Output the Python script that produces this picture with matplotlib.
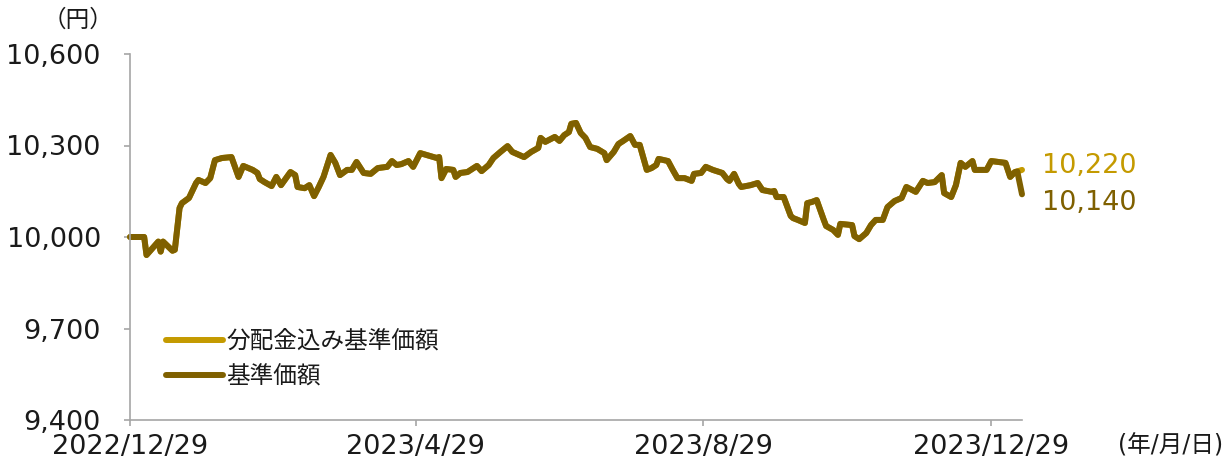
import matplotlib
matplotlib.use("Agg")
import matplotlib.pyplot as plt
import numpy as np

# digits in a wide face, Japanese falls back to Noto CJK
plt.rcParams['font.family'] = ['DejaVu Sans', 'Noto Sans CJK JP']

# 基準価額
dates = [
    "2022-12-29", "2023-01-04", "2023-01-05", "2023-01-10", "2023-01-11", "2023-01-12",
    "2023-01-16", "2023-01-17", "2023-01-19", "2023-01-20", "2023-01-23", "2023-01-26",
    "2023-01-27", "2023-01-30", "2023-02-01", "2023-02-03", "2023-02-06", "2023-02-10",
    "2023-02-13", "2023-02-15", "2023-02-19", "2023-02-21", "2023-02-22", "2023-02-24",
    "2023-02-27", "2023-03-01", "2023-03-03", "2023-03-07", "2023-03-09", "2023-03-10",
    "2023-03-13", "2023-03-15", "2023-03-17", "2023-03-19", "2023-03-21", "2023-03-24",
    "2023-03-26", "2023-03-28", "2023-03-31", "2023-04-02", "2023-04-04", "2023-04-07",
    "2023-04-10", "2023-04-13", "2023-04-17", "2023-04-19", "2023-04-21", "2023-04-23",
    "2023-04-26", "2023-04-28", "2023-05-01", "2023-05-08", "2023-05-09", "2023-05-10",
    "2023-05-12", "2023-05-15", "2023-05-16", "2023-05-18", "2023-05-21", "2023-05-25",
    "2023-05-27", "2023-05-30", "2023-06-01", "2023-06-04", "2023-06-07", "2023-06-09",
    "2023-06-12", "2023-06-14", "2023-06-17", "2023-06-20", "2023-06-21", "2023-06-23",
    "2023-06-27", "2023-06-29", "2023-07-01", "2023-07-03", "2023-07-04", "2023-07-06",
    "2023-07-08", "2023-07-10", "2023-07-12", "2023-07-15", "2023-07-18", "2023-07-19",
    "2023-07-22", "2023-07-24", "2023-07-26", "2023-07-29", "2023-07-31", "2023-08-02",
    "2023-08-05", "2023-08-07", "2023-08-09", "2023-08-10", "2023-08-14", "2023-08-16",
    "2023-08-18", "2023-08-21", "2023-08-24", "2023-08-25", "2023-08-28", "2023-08-30",
    "2023-09-02", "2023-09-06", "2023-09-08", "2023-09-09", "2023-09-11", "2023-09-13",
    "2023-09-14", "2023-09-18", "2023-09-21", "2023-09-23", "2023-09-27", "2023-09-28",
    "2023-09-29", "2023-10-02", "2023-10-05", "2023-10-06", "2023-10-08", "2023-10-11",
    "2023-10-12", "2023-10-14", "2023-10-16", "2023-10-19", "2023-10-20", "2023-10-23",
    "2023-10-25", "2023-10-26", "2023-10-31", "2023-11-01", "2023-11-03", "2023-11-06",
    "2023-11-08", "2023-11-10", "2023-11-13", "2023-11-15", "2023-11-18", "2023-11-21",
    "2023-11-23", "2023-11-27", "2023-11-30", "2023-12-02", "2023-12-05", "2023-12-08",
    "2023-12-09", "2023-12-12", "2023-12-14", "2023-12-16", "2023-12-18", "2023-12-21",
    "2023-12-22", "2023-12-27", "2023-12-29", "2024-01-04", "2024-01-06", "2024-01-08",
    "2024-01-09", "2024-01-11",
]
nav = [
    10000, 10000, 9941, 9985, 9952, 9985,
    9955, 9958, 10095, 10111, 10128, 10177,
    10187, 10177, 10193, 10252, 10259, 10262,
    10197, 10233, 10220, 10210, 10190, 10180,
    10167, 10197, 10170, 10213, 10203, 10164,
    10160, 10170, 10134, 10164, 10197, 10269,
    10243, 10203, 10220, 10220, 10246, 10210,
    10207, 10226, 10230, 10249, 10236, 10239,
    10249, 10230, 10275, 10259, 10262, 10193,
    10223, 10220, 10197, 10210, 10213, 10233,
    10216, 10236, 10259, 10279, 10298, 10279,
    10269, 10262, 10279, 10292, 10325, 10312,
    10328, 10315, 10334, 10344, 10371, 10374,
    10341, 10325, 10295, 10289, 10275, 10252,
    10279, 10305, 10315, 10331, 10302, 10302,
    10220, 10226, 10236, 10256, 10249, 10220,
    10193, 10193, 10184, 10207, 10210, 10230,
    10220, 10210, 10190, 10184, 10207, 10174,
    10164, 10170, 10177, 10154, 10148, 10151,
    10131, 10131, 10069, 10062, 10056, 10046,
    10111, 10115, 10121, 10056, 10036, 10023,
    10007, 10043, 10039, 10003, 9993, 10013,
    10039, 10056, 10056, 10098, 10118, 10128,
    10164, 10148, 10184, 10177, 10180, 10203,
    10144, 10131, 10170, 10243, 10230, 10249,
    10220, 10220, 10249, 10243, 10197, 10213,
    10215, 10140,
]
# 分配金込み基準価額: same path, last value differs
nav_with_div = nav[:-1] + [10220]

labels = ["分配金込み基準価額", "基準価額"]
tick_dates = ["2022-12-29", "2023-04-29", "2023-08-29", "2023-12-29"]
tick_labels = ["2022/12/29", "2023/4/29", "2023/8/29", "2023/12/29"]
y_ticks = [9400, 9700, 10000, 10300, 10600]

GOLD = "#C49A00"
DARK = "#7F6000"
GRAY = "#A6A6A6"
TXT = "#1a1a1a"

x = np.array(dates, dtype="datetime64[D]")

fig = plt.figure(figsize=(12.32, 4.59), dpi=100)
ax = fig.add_axes([130 / 1232, 1 - 420 / 459, 892 / 1232, 366 / 459])

ax.plot(x, nav_with_div, color=GOLD, lw=4.3, label=labels[0],
        solid_joinstyle="round", solid_capstyle="round", clip_on=False)
ax.plot(x, nav, color=DARK, lw=4.3, label=labels[1],
        solid_joinstyle="round", solid_capstyle="round", clip_on=False)

ax.set_xlim(np.datetime64("2022-12-29"), np.datetime64("2024-01-11"))
ax.set_ylim(9400, 10600)
ax.set_yticks(y_ticks)
ax.set_yticklabels([f"{v:,}" for v in y_ticks])
ax.set_xticks(np.array(tick_dates, dtype="datetime64[D]"))
ax.set_xticklabels(tick_labels)

for s in ["top", "right"]:
    ax.spines[s].set_visible(False)
for s in ["left", "bottom"]:
    ax.spines[s].set_color(GRAY)
    ax.spines[s].set_linewidth(1.2)
ax.tick_params(axis="both", direction="out", length=4, width=1.2, color=GRAY,
               labelsize=19.5, labelcolor=TXT)
ax.tick_params(axis="y", pad=17)
ax.tick_params(axis="x", pad=6)

leg = ax.legend(loc="upper left", bbox_to_anchor=(0.03, 0.275), frameon=False,
                fontsize=17, handlelength=2.4, handletextpad=0.15,
                labelspacing=0.5, borderaxespad=0)
for t in leg.get_texts():
    t.set_color(TXT)

# end value labels
ax.text(1.022, (10220 - 9400) / 1200 + 0.012, f"{nav_with_div[-1]:,}", transform=ax.transAxes,
        color=GOLD, fontsize=19.5, va="center", ha="left")
ax.text(1.022, (10112 - 9400) / 1200, f"{nav[-1]:,}", transform=ax.transAxes,
        color=DARK, fontsize=19.5, va="center", ha="left")

fig.text(78 / 1232, 1 - 20 / 459, "（円）", fontsize=17, ha="center", va="center", color=TXT)
fig.text(1118 / 1232, 1 - 445 / 459, "(年/月/日)", fontsize=17, ha="left", va="center",
         color=TXT)

fig.savefig("out.png", dpi=100)
